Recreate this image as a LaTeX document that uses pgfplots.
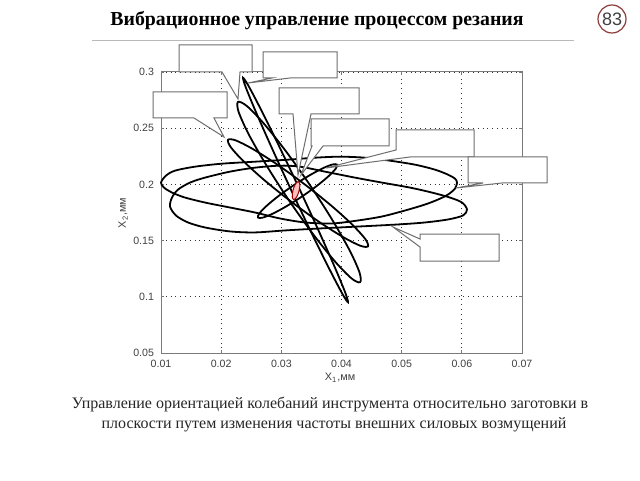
\documentclass[border=0pt]{standalone}
\usepackage{fontspec}
\setmainfont{Liberation Serif}
\setsansfont{Liberation Sans}
\usepackage{pgfplots}
\pgfplotsset{compat=1.18}
\definecolor{framegray}{HTML}{7A7A7A}
\definecolor{numred}{HTML}{8E3B3B}
\definecolor{calloutgray}{HTML}{6E6E6E}
\tikzset{callout/.style={fill=white, draw=calloutgray, line width=0.5pt, line join=miter}}
\begin{document}
\begin{tikzpicture}
\begin{scope}[x=0.5pt,y=-0.5pt]
\useasboundingbox (0,0) rectangle (640,480);
\fill[white] (0,0) rectangle (640,480);
\node[anchor=base, font=\fontsize{9.9}{12}\selectfont\bfseries] at (317,26) {Вибрационное управление процессом резания};
\draw[gray!55, line width=0.5pt] (92,41) -- (574,41);
\draw[numred, line width=0.6pt] (612,19) circle (14);
\node[font=\sffamily\fontsize{9}{10}\selectfont, text=black!75] at (612,19) {83};
\node[anchor=base, font=\fontsize{8.0}{10}\selectfont, text=black!85] at (330,408) {Управление ориентацией колебаний инструмента относительно заготовки в};
\node[anchor=base, font=\fontsize{8.0}{10}\selectfont, text=black!85] at (334,428) {плоскости путем изменения частоты внешних силовых возмущений};
\end{scope}

\begin{axis}[
  at={(80.5pt,-176.5pt)}, anchor=south west,
  scale only axis, width=180.5pt, height=140.5pt,
  xmin=0.01, xmax=0.07, ymin=0.05, ymax=0.3,
  scaled x ticks=false, scaled y ticks=false,
  xtick={0.01,0.02,0.03,0.04,0.05,0.06,0.07},
  xticklabels={0.01,0.02,0.03,0.04,0.05,0.06,0.07},
  ytick={0.05,0.1,0.15,0.2,0.25,0.3},
  yticklabels={0.05,0.1,0.15,0.2,0.25,0.3},
  grid=major, major grid style={dotted, black!80, line width=0.4pt},
  axis line style={framegray, line width=0.5pt},
  tick align=inside, tick pos=both, major tick length=1.5pt,
  tick style={framegray, line width=0.4pt},
  ticklabel style={font=\sffamily\fontsize{5.3}{6}\selectfont, text=black!75},
  xlabel={X\textsubscript{1},мм}, ylabel={X\textsubscript{2},мм},
  label style={font=\sffamily\fontsize{5.4}{6}\selectfont, text=black!75},
  xlabel style={at={(axis description cs:0.496,-0.088)}, anchor=center},
  ylabel style={at={(axis description cs:-0.105,0.498)}, anchor=center},
  clip=false,
]
% wide ellipse A
\addplot[black, line width=0.9pt, smooth cycle] coordinates {
(0.01000,0.20160) (0.01083,0.20780) (0.01233,0.21223) (0.01565,0.21578) (0.02014,0.21844)
(0.02562,0.22021) (0.03111,0.22199) (0.03560,0.22376) (0.03975,0.22465) (0.04391,0.22376)
(0.04806,0.22110) (0.05222,0.21755) (0.05554,0.21312) (0.05770,0.20869) (0.05886,0.20514)
(0.05920,0.20160) (0.05886,0.19628) (0.05770,0.19096) (0.05604,0.18652) (0.05388,0.18209)
(0.05055,0.17677) (0.04673,0.17145) (0.04274,0.16791) (0.03842,0.16525) (0.03393,0.16614)
(0.02978,0.16968) (0.02562,0.17500) (0.02147,0.17943) (0.01731,0.18387) (0.01399,0.18830)
(0.01183,0.19273) (0.01050,0.19716)};
% wide ellipse B
\addplot[black, line width=0.9pt, smooth cycle] coordinates {
(0.01150,0.18032) (0.01183,0.18830) (0.01283,0.19539) (0.01482,0.20160) (0.01731,0.20603)
(0.02147,0.21135) (0.02562,0.21489) (0.02978,0.21667) (0.03310,0.21578) (0.03726,0.21135)
(0.04224,0.20603) (0.04673,0.20160) (0.05138,0.19716) (0.05504,0.19273) (0.05803,0.18830)
(0.06003,0.18387) (0.06086,0.17766) (0.06019,0.17234) (0.05770,0.16880) (0.05388,0.16614)
(0.04939,0.16436) (0.04307,0.16259) (0.03643,0.16082) (0.03061,0.15904) (0.02562,0.15727)
(0.02147,0.15816) (0.01731,0.16170) (0.01449,0.16614) (0.01249,0.17234)};
% thin ellipse C
\addplot[black, line width=0.9pt, smooth cycle] coordinates {
(0.04108,0.09520) (0.04065,0.10335) (0.03895,0.12550) (0.03625,0.15817) (0.03296,0.19650)
(0.02957,0.23461) (0.02661,0.26662) (0.02453,0.28779) (0.02364,0.29480) (0.02407,0.28665)
(0.02577,0.26450) (0.02847,0.23183) (0.03176,0.19350) (0.03515,0.15539) (0.03811,0.12338)
(0.04019,0.10221)};
% ellipse D
\addplot[black, line width=0.9pt, smooth cycle] coordinates {
(0.04308,0.11294) (0.04300,0.12151) (0.04138,0.14101) (0.03847,0.16840) (0.03473,0.19962)
(0.03071,0.22986) (0.02704,0.25445) (0.02426,0.26977) (0.02280,0.27340) (0.02288,0.26483)
(0.02450,0.24533) (0.02741,0.21794) (0.03115,0.18672) (0.03517,0.15648) (0.03884,0.13189)
(0.04162,0.11657)};
% ellipse E
\addplot[black, line width=0.9pt, smooth cycle] coordinates {
(0.04440,0.14486) (0.04395,0.15143) (0.04178,0.16424) (0.03826,0.18128) (0.03388,0.20004)
(0.02934,0.21762) (0.02532,0.23130) (0.02245,0.23909) (0.02114,0.23972) (0.02159,0.23315)
(0.02376,0.22034) (0.02728,0.20330) (0.03166,0.18454) (0.03620,0.16696) (0.04022,0.15328)
(0.04309,0.14549)};
% ellipse F
\addplot[black, line width=0.9pt, smooth cycle] coordinates {
(0.03926,0.21755) (0.03901,0.21380) (0.03779,0.20703) (0.03581,0.19830) (0.03334,0.18891)
(0.03077,0.18030) (0.02851,0.17381) (0.02687,0.17038) (0.02612,0.17057) (0.02637,0.17432)
(0.02759,0.18109) (0.02957,0.18982) (0.03204,0.19921) (0.03461,0.20782) (0.03687,0.21431)
(0.03851,0.21774)};
% small red ellipse
\addplot[draw=red!60!black, fill=red!25, line width=0.5pt, smooth cycle] coordinates {
(0.032855,0.20248) (0.03304,0.20106) (0.03306,0.19788) (0.03292,0.19379) (0.03265,0.18990)
(0.03232,0.18724) (0.032025,0.18652) (0.03184,0.18795) (0.03182,0.19113) (0.03196,0.19521)
(0.03223,0.19911) (0.03256,0.20177)};
\end{axis}

\begin{scope}[x=0.5pt,y=-0.5pt]
\path[callout] (179,45) -- (252,45) -- (252,72) -- (240,72) -- (238,99) -- (222,72) -- (179,72) -- cycle;
\path[callout] (263,52) -- (337,52) -- (337,78) -- (290,78) -- (248,83) -- (272,78) -- (263,78) -- cycle;
\path[callout] (153,92) -- (227,92) -- (227,118) -- (214,118) -- (224,137) -- (194,118) -- (153,118) -- cycle;
\path[callout] (279,88) -- (359,88) -- (359,114) -- (311,114) -- (298,175) -- (293,114) -- (279,114) -- cycle;
\path[callout] (311,119) -- (389,119) -- (389,146) -- (323,146) -- (301,175) -- (312,146) -- (311,146) -- cycle;
\path[callout] (396,130) -- (474,130) -- (474,157) -- (410,157) -- (326,168) -- (396,150) -- cycle;
\path[callout] (468,157) -- (547,157) -- (547,183) -- (502,183) -- (456,188) -- (483,183) -- (468,183) -- cycle;
\path[callout] (420,234) -- (499,234) -- (499,261) -- (420,261) -- (420,247) -- (393,227) -- (420,239) -- cycle;
\end{scope}
\end{tikzpicture}
\end{document}
